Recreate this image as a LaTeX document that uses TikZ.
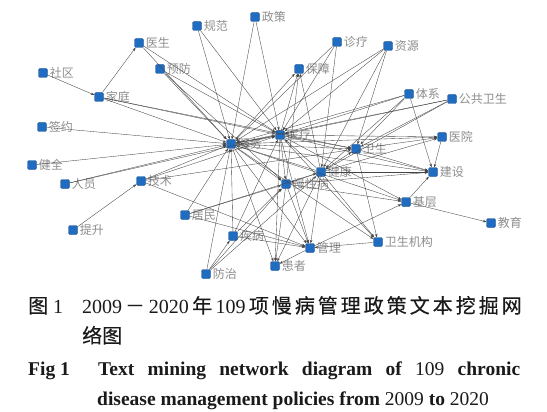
\documentclass[tikz,border=0pt]{standalone}
\usepackage{fontspec}
\setmainfont{Liberation Serif}
\newfontfamily\cjk{Noto Sans CJK SC}
\newfontfamily\cjkm{Noto Sans CJK SC}[FakeBold=0.3]
\usetikzlibrary{arrows.meta}
\definecolor{nodeblue}{HTML}{1F6CC0}
\definecolor{nodeedge}{HTML}{174F8E}
\definecolor{lblgray}{HTML}{8E8E8E}
\definecolor{edgegray}{HTML}{444444}
\definecolor{captext}{HTML}{1A1A1A}
\tikzset{
  sq/.style={draw=nodeedge,fill=nodeblue,rounded corners=1.5pt,minimum size=9pt,inner sep=0pt,line width=0.4pt},
  lbl/.style={text=lblgray,font=\cjk\fontsize{12}{12}\selectfont,inner sep=0pt,label distance=2pt},
  lnk/.style={draw=edgegray,line width=0.35pt,-{Stealth[length=3.5pt,width=2.6pt]}},
  captxt/.style={anchor=base west,inner sep=0pt,text=captext},
}
\newcommand\nd[4]{\node[sq,label={[lbl]right:#4}] (#1) at (#2,#3) {};}
\begin{document}
\begin{tikzpicture}[x=1pt,y=-1pt]
\useasboundingbox[fill=white] (0,0) rectangle (547,412);
% nodes
\nd{ys}{139}{43}{医生}
\nd{gf}{197}{26}{规范}
\nd{zc}{255}{17}{政策}
\nd{sqq}{43}{73}{社区}
\nd{yf}{160}{69}{预防}
\nd{jt}{99}{97}{家庭}
\nd{qy}{42}{127}{签约}
\nd{zl}{337}{42}{诊疗}
\nd{zy}{388}{46}{资源}
\nd{bz}{299}{69}{保障}
\nd{tx}{409}{94}{体系}
\nd{ggws}{452}{99}{公共卫生}
\nd{yl}{280}{135}{医疗}
\nd{fw}{231}{144}{服务}
\nd{yy}{442}{137}{医院}
\nd{ws}{356}{149}{卫生}
\nd{jk}{321}{172}{健康}
\nd{js}{433}{172}{建设}
\nd{mxb}{286}{184}{慢性病}
\nd{jq}{32}{165}{健全}
\nd{ry}{65}{184}{人员}
\nd{jsh}{141}{181}{技术}
\nd{jc}{406}{202}{基层}
\nd{jm}{185}{215}{居民}
\nd{jy}{491}{223}{教育}
\nd{ts}{73}{230}{提升}
\nd{jb}{233}{236}{疾病}
\nd{wsjg}{378}{242}{卫生机构}
\nd{gl}{310}{248}{管理}
\nd{hz}{275}{266}{患者}
\nd{fz}{206}{274}{防治}
% edges
\foreach \a/\b in {
  jt/ys, sqq/jt, ts/jsh,
  ys/fw, ys/yl, yf/fw, yf/yl, yf/mxb, gf/fw, gf/yl, zc/fw, zc/yl,
  jt/fw, jt/yl, jt/ws, qy/fw, jq/fw, ry/fw, ry/yl,
  jsh/fw, jsh/yl, jsh/ws, jsh/gl,
  zl/fw, zl/yl, zl/jk, zy/fw, zy/yl, zy/ws, zy/jk,
  fw/bz, yl/bz, mxb/bz, jk/bz,
  tx/fw, tx/yl, tx/ws, tx/js, tx/jk,
  ggws/fw, ggws/yl, ggws/ws, ggws/jk,
  fw/yy, yl/yy, ws/yy, jk/yy,
  yy/js, ws/js, jk/js, fw/js, yl/js, jc/js, mxb/js,
  jc/jy, gl/jc, mxb/jc, fw/jc, yl/jc,
  wsjg/gl, fw/wsjg, yl/wsjg, ws/wsjg, jk/wsjg,
  fw/gl, yl/gl, mxb/gl, jb/gl, jk/gl, jm/gl,
  fw/hz, yl/hz, mxb/hz, gl/hz, jk/hz,
  jb/fw, jb/mxb, jb/yl,
  fz/fw, fz/mxb, fz/jk, fz/jb,
  jm/fw, jm/mxb, jm/jk,
  fw/mxb, yl/mxb, jk/mxb,
  jk/ws, jk/yl, jk/fw,
  fw/yl, yl/fw, fw/ws, yl/ws}
  \draw[lnk] (\a) -- (\b);
% caption
\node[captxt] (c1a) at (28,313) {\fontsize{20}{20}\selectfont{\cjkm 图}\ 1};
\node[captxt] (c1b) at (82,313) {\fontsize{20}{20}\selectfont\makebox[438pt][s]{2009\,{\cjk －}\,2020\ {\cjkm 年}\ 109\ {\cjkm 项 慢 病 管 理 政 策 文 本 挖 掘 网}}};
\node[captxt] (c2) at (82,343) {\fontsize{20}{20}\selectfont\cjkm 络图};
\node[captxt] (c3a) at (28,375) {\fontsize{19.5}{19.5}\selectfont\bfseries Fig 1};
\node[captxt] (c3b) at (98,375) {\fontsize{19.5}{19.5}\selectfont\makebox[422pt][s]{\bfseries Text mining network diagram of {\mdseries 109} chronic}};
\node[captxt] (c4) at (97,405) {\fontsize{19.5}{19.5}\selectfont\bfseries disease management policies from {\mdseries 2009} to {\mdseries 2020}};
\end{tikzpicture}
\end{document}
